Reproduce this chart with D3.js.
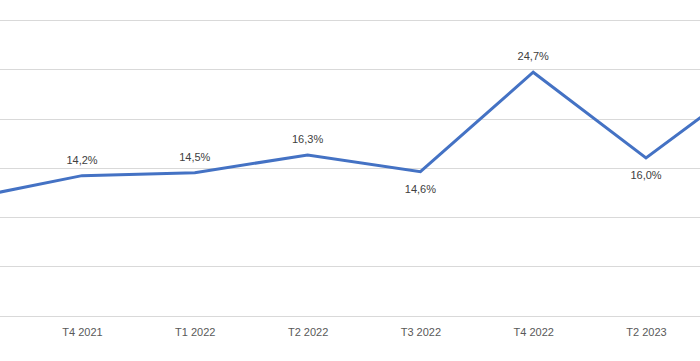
<!DOCTYPE html>
<html>
<head>
<meta charset="utf-8">
<script src="https://cdn.jsdelivr.net/npm/d3@7/dist/d3.min.js"></script>
<style>
  html, body { margin: 0; padding: 0; background: #fff; }
  svg { display: block; }
  text { font-family: "Liberation Sans", Arial, sans-serif; }
</style>
</head>
<body>
<svg id="chart" width="700" height="361"></svg>
<script>
// Categories (first and last are only partly visible, cut by the frame)
const categories = ["T3 2021", "T4 2021", "T1 2022", "T2 2022", "T3 2022", "T4 2022", "T2 2023", "T3 2023"];
const visibleCategories = ["T4 2021", "T1 2022", "T2 2022", "T3 2022", "T4 2022", "T2 2023"];
const values = [11.9, 14.2, 14.5, 16.3, 14.6, 24.7, 16.0, 24.5];
const labelBelow = [false, false, false, false, true, false, true, false];
const yTicks = [0, 5, 10, 15, 20, 25, 30];

const svg = d3.select("#chart");
const W = 700, H = 361;

const step = 112.8;
const x = d3.scalePoint()
  .domain(categories)
  .range([82 - step, 82 + step * (categories.length - 2)]);

const y = d3.scaleLinear().domain([0, 30]).range([315.5, 20]);

// gridlines
svg.append("g")
  .selectAll("line")
  .data(yTicks)
  .join("line")
  .attr("x1", 0).attr("x2", W)
  .attr("y1", d => Math.round(y(d)) + 0.5)
  .attr("y2", d => Math.round(y(d)) + 0.5)
  .attr("stroke", "#d9d9d9")
  .attr("stroke-width", 1);

// x axis labels (only categories visible in the frame)
const xAxis = d3.axisBottom(x).tickValues(visibleCategories).tickSize(0).tickPadding(0);
const gx = svg.append("g").attr("transform", `translate(0,${y(0)})`).call(xAxis);
gx.select(".domain").remove();
gx.selectAll("text")
  .attr("dy", null)
  .attr("y", 20)
  .attr("font-size", "11px")
  .attr("font-family", "Liberation Sans, Arial, sans-serif")
  .attr("fill", "#595959");

// line
const line = d3.line()
  .x((d, i) => x(categories[i]))
  .y(d => y(d));

svg.append("path")
  .datum(values)
  .attr("d", line)
  .attr("fill", "none")
  .attr("stroke", "#4472c4")
  .attr("stroke-width", 3)
  .attr("stroke-linejoin", "miter");

// data labels (visible points only)
const labelData = values
  .map((v, i) => ({ v, i, c: categories[i] }))
  .filter(d => visibleCategories.includes(d.c));

svg.append("g")
  .selectAll("text")
  .data(labelData)
  .join("text")
  .attr("x", d => x(d.c))
  .attr("y", d => y(d.v) + (labelBelow[d.i] ? 21 : -12))
  .attr("text-anchor", "middle")
  .attr("font-size", "11px")
  .attr("fill", "#404040")
  .text(d => d.v.toFixed(1).replace(".", ",") + "%");
</script>
</body>
</html>
